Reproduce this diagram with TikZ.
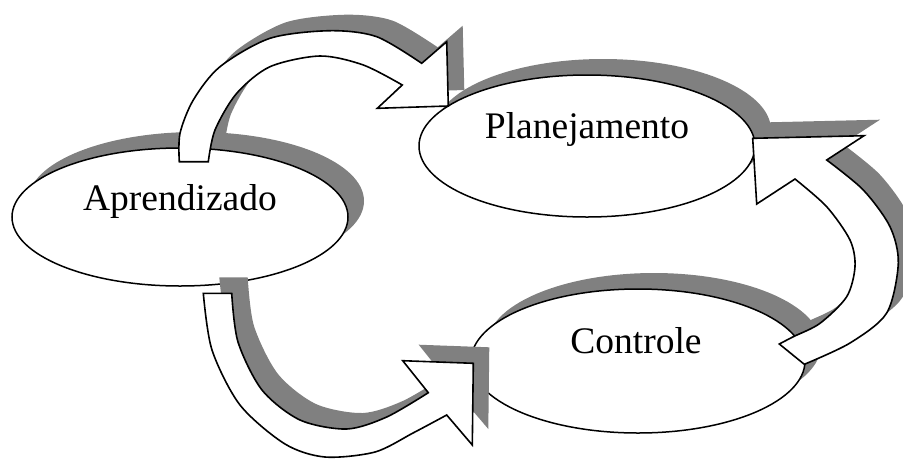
\documentclass[tikz,border=0pt]{standalone}
\usepackage{fontspec}
\setmainfont{Liberation Serif}
\usetikzlibrary{shapes.geometric,shadows}
\definecolor{shd}{HTML}{808080}
\tikzset{
  bubble/.style={ellipse, draw=black, line width=1.5pt, fill=white, inner sep=0pt,
    drop shadow={shadow xshift=16pt, shadow yshift=16pt, fill=shd, opacity=1}},
  lbl/.style={anchor=base, font=\fontsize{37.5}{44}\selectfont, inner sep=0pt},
  arrowbody/.style={fill=white, draw=black, line width=1.6pt, line join=miter},
  arrowshadow/.style={fill=shd, shift={(16,16)}},
}
% curved block arrow: Aprendizado -> Planejamento
\newcommand\arrowAshape[1]{\path[#1] (179.3,-161.7)
  -- plot[smooth] coordinates {(179.3,-161.7) (180,-133.3) (193.3,-100) (220,-66.7) (270,-38.3) (330,-30.7) (376.7,-36.7) (421.7,-63.3)}
  -- (446.7,-41.7) -- (448.3,-106) -- (377.3,-108.3) -- (402.3,-85)
  -- plot[smooth] coordinates {(402.3,-85) (363.3,-65) (320,-56) (270,-66.7) (236.7,-93.3) (215,-130) (208.3,-161.7)}
  -- cycle;}
% curved block arrow: Aprendizado -> Controle
\newcommand\arrowBshape[1]{\path[#1] (203.3,-293.3)
  -- plot[smooth] coordinates {(203.3,-293.3) (212,-350) (240,-405) (285,-444) (325,-457) (375,-452) (413,-433) (446.7,-415)}
  -- (472.3,-445) -- (473.3,-363.3) -- (402.7,-360.7) -- (428.3,-392.7)
  -- plot[smooth] coordinates {(428.3,-392.7) (386.7,-417) (346.7,-429) (300,-420) (262,-390) (238,-342) (231.7,-293.3)}
  -- cycle;}
% curved block arrow: Controle -> Planejamento
\newcommand\arrowCshape[1]{\path[#1] (804.3,-364.3)
  -- plot[smooth] coordinates {(804.3,-364.3) (850,-343) (886.7,-313) (898.3,-263.3) (890,-226.7) (863.3,-190) (826.7,-160)}
  -- (864,-135.7) -- (752.7,-138.3) -- (756.7,-204) -- (795,-179)
  -- plot[smooth] coordinates {(795,-179) (826.7,-206.7) (850,-240) (855,-266.7) (846.7,-296.7) (820,-323.3) (793.3,-336.7) (779.3,-344)}
  -- cycle;}
\begin{document}
\begin{tikzpicture}[x=1pt,y=1pt]
\useasboundingbox (0,0) rectangle (903,-459);
\clip (0,0) rectangle (903,-459);
% ellipses
\node[bubble, minimum width=336pt, minimum height=138pt] (apr) at (180,-217) {};
\node[lbl] (aprT) at (180,-210) {Aprendizado};
\node[bubble, minimum width=336pt, minimum height=142pt] (plan) at (587,-146) {};
\node[lbl] (planT) at (587,-138) {Planejamento};
\node[bubble, minimum width=334pt, minimum height=144pt] (cont) at (638,-361) {};
\node[lbl] (contT) at (636,-353) {Controle};
% arrows
\arrowAshape{arrowshadow}
\arrowAshape{arrowbody}
\arrowBshape{arrowshadow}
\arrowBshape{arrowbody}
\arrowCshape{arrowshadow}
\arrowCshape{arrowbody}
\end{tikzpicture}
\end{document}
